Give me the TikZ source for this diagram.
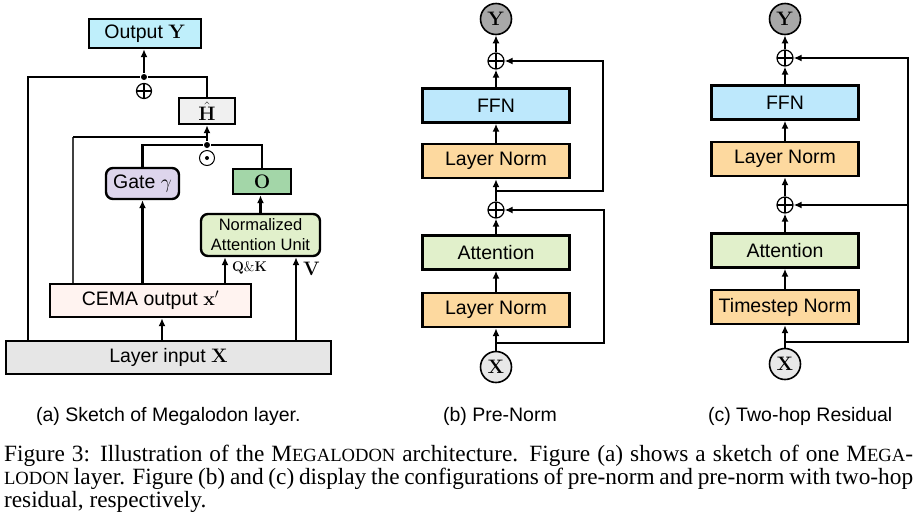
\RequirePackage{fix-cm}
\documentclass[tikz,border=0pt]{standalone}
\usepackage[no-math]{fontspec}
\setmainfont{Liberation Sans}
\newfontfamily\capfont{Liberation Serif}
\usepackage{tikz}
\usetikzlibrary{arrows.meta}

\definecolor{outcol}{HTML}{BFEFFB}
\definecolor{hcol}{HTML}{F0F0F0}
\definecolor{gatecol}{HTML}{DDD5EC}
\definecolor{ocol}{HTML}{A3D6A8}
\definecolor{attcol}{HTML}{E1F0CB}
\definecolor{cemacol}{HTML}{FFF3F0}
\definecolor{incol}{HTML}{E6E6E6}
\definecolor{ffncol}{HTML}{BDE8FC}
\definecolor{lncol}{HTML}{FDD99F}
\definecolor{ycol}{HTML}{A8A8A8}
\definecolor{xcol}{HTML}{E8E8E8}

\newcommand{\fsc}[1]{{\fontsize{18.6}{22}\selectfont #1}}
\newcommand{\capline}[1]{\makebox[909pt][s]{\spaceskip=0.25em plus 0.4em minus 0.12em #1}}

\begin{document}
\begin{tikzpicture}[x=1pt,y=-1pt,line width=2.2pt,
    every node/.style={font=\fontsize{19.5}{22}\selectfont},
    blk/.style={draw,line width=2.4pt,inner sep=0pt,minimum width=147pt,minimum height=34pt},
    rblk/.style={blk,rounded corners=7pt},
    arr/.style={-{Latex[length=8pt,width=7pt]}},
    op/.style={circle,draw,fill=white,line width=1.2pt,inner sep=0pt,minimum size=15pt,
      path picture={\draw[line width=1.2pt] (path picture bounding box.north) -- (path picture bounding box.south)
        (path picture bounding box.west) -- (path picture bounding box.east);}},
    dotop/.style={circle,draw,fill=white,line width=1pt,inner sep=0pt,minimum size=15pt},
    jdot/.style={circle,fill,inner sep=0pt,minimum size=6pt},
    io/.style={circle,draw,line width=1.6pt,inner sep=0pt,minimum size=31pt},
    capt/.style={anchor=base west,inner sep=0pt,font=\capfont\fontsize{23.3}{22}\selectfont}]
\useasboundingbox (0,0) rectangle (919,515);

% (a) megalodon layer
\node[blk,fill=outcol,minimum width=112pt,minimum height=29pt] (out) at (145,33.5) {Output $\mathbf{Y}$};
\node[blk,fill=hcol,minimum width=56pt,minimum height=26pt] (hh) at (207,111) {$\hat{\mathbf{H}}$};
\node[rblk,fill=gatecol,minimum width=73pt,minimum height=31pt] (gate) at (142.5,183.5) {Gate $\gamma$};
\node[blk,fill=ocol,minimum width=58pt,minimum height=25pt] (oo) at (262,181.5) {$\mathbf{O}$};
\node[rblk,fill=attcol,minimum width=119pt,minimum height=42pt,align=center,
  font=\fontsize{16.5}{20}\selectfont] (nau) at (260.5,235) {Normalized\\Attention Unit};
\node[blk,fill=cemacol,minimum width=201pt,minimum height=33pt] (cema) at (150.5,300.5) {CEMA output $\mathbf{x}'$};
\node[blk,fill=incol,minimum width=325pt,minimum height=33pt] (xin) at (168.5,357.5) {Layer input $\mathbf{X}$};

\node[jdot] (j1) at (144,77) {};
\node[op] (sum) at (144,91) {};
\node[jdot] (j2) at (207,145) {};
\node[dotop] (mul) at (207,158) {};
\node[jdot,minimum size=4pt] (muldot) at (mul) {};
\coordinate (tapL) at (28,340);
\coordinate (tapC) at (73,283);
\coordinate (mrg) at (207,137);
\coordinate (qkx) at (225,0);
\coordinate (vx) at (296,0);
\coordinate (cx) at (162,0);

\draw[arr] (j1) -- (j1 |- out.south);
\draw (hh.north) |- (j1) -| (tapL);
\draw[arr] (j2) -- (hh.south);
\draw[line width=1.3pt,black!75] (tapC) -- (tapC |- mrg);
\draw (tapC |- mrg) -- (mrg);
\draw (gate.north) |- (j2) -| (oo.north);
\draw[arr] (nau.north) -- (nau.north |- oo.south);
\draw[arr] (cema.north -| gate) -- (gate.south);
\draw[arr] (qkx |- cema.north) -- (qkx |- nau.south);
\draw[arr] (vx |- xin.north) -- (vx |- nau.south);
\draw[arr] (cx |- xin.north) -- (cx |- cema.south);
\node[anchor=west,inner sep=0pt,font=\fontsize{14}{14}\selectfont] (qk) at (231,268) {$\mathbf{Q\&K}$};
\node[anchor=west,inner sep=0pt] (vv) at (302,269) {$\mathbf{V}$};

% (b) pre-norm
\node[io,fill=ycol] (yb) at (496,19) {$\mathbf{Y}$};
\node[op,minimum size=16pt] (sb2) at (496,61) {};
\node[blk,fill=ffncol] (ffnb) at (496,105.5) {FFN};
\node[blk,fill=lncol] (lnb) at (496,161) {Layer Norm};
\node[op,minimum size=16pt] (sb1) at (496,210) {};
\node[blk,fill=attcol] (attb) at (496,252.5) {Attention};
\node[blk,fill=lncol] (lnb2) at (496,310) {Layer Norm};
\node[io,fill=xcol] (xb) at (496,367) {$\mathbf{X}$};
\coordinate (rb1) at (603,191);
\coordinate (rb0) at (604,343);

\draw[arr] (xb) -- (lnb2);
\draw[arr] (lnb2) -- (attb);
\draw[arr] (attb) -- (sb1);
\draw[arr] (sb1) -- (lnb);
\draw[arr] (lnb) -- (ffnb);
\draw[arr] (ffnb) -- (sb2);
\draw[arr] (sb2) -- (yb);
\draw[arr] (sb1 |- rb1) -| (rb1 |- sb2) -- (sb2);
\draw[arr] (xb |- rb0) -| (rb0 |- sb1) -- (sb1);

% (c) two-hop residual
\node[io,fill=ycol] (yc) at (785,19) {$\mathbf{Y}$};
\node[op,minimum size=16pt] (sc2) at (785,58) {};
\node[blk,fill=ffncol] (ffnc) at (785,102.5) {FFN};
\node[blk,fill=lncol] (lnc) at (785,159) {Layer Norm};
\node[op,minimum size=16pt] (sc1) at (785,205) {};
\node[blk,fill=attcol] (attc) at (785,250.5) {Attention};
\node[blk,fill=lncol] (tnc) at (785,307) {Timestep Norm};
\node[io,fill=xcol] (xc) at (785,364) {$\mathbf{X}$};
\coordinate (rc) at (908,342);

\draw[arr] (xc) -- (tnc);
\draw[arr] (tnc) -- (attc);
\draw[arr] (attc) -- (sc1);
\draw[arr] (sc1) -- (lnc);
\draw[arr] (lnc) -- (ffnc);
\draw[arr] (ffnc) -- (sc2);
\draw[arr] (sc2) -- (yc);
\draw[arr] (xc |- rc) -| (rc |- sc2) -- (sc2);
\draw[arr] (rc |- sc1) -- (sc1);

% captions
\node[anchor=base west,inner sep=0pt] (capa) at (35,421.7) {(a) Sketch of Megalodon layer.};
\node[anchor=base west,inner sep=0pt] (capb) at (442,421.7) {(b) Pre-Norm};
\node[anchor=base west,inner sep=0pt] (capc) at (707,421.7) {(c) Two-hop Residual};
\node[capt] (cap1) at (3,461)
  {\capline{Figure 3: Illustration of the M\fsc{EGALODON} architecture. Figure (a) shows a sketch of one M\fsc{EGA}-}};
\node[capt] (cap2) at (3,484)
  {\capline{\fsc{LODON} layer. Figure (b) and (c) display the configurations of pre-norm and pre-norm with two-hop}};
\node[capt] (cap3) at (3,507) {residual, respectively.};
\end{tikzpicture}
\end{document}
